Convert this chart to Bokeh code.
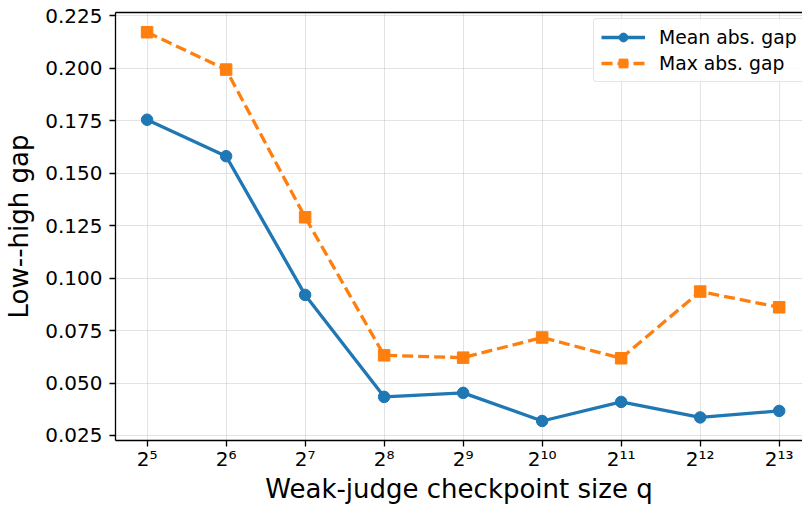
from bokeh.plotting import figure
from bokeh.models import (Range1d, FixedTicker, LogAxis, PrintfTickFormatter,
                          Legend)
from bokeh.embed import file_html
from bokeh.resources import INLINE

# checkpoint sizes (powers of two) and the two gap statistics
exponents = [5, 6, 7, 8, 9, 10, 11, 12, 13]
q_sizes = [2 ** e for e in exponents]
mean_gap = [0.1755, 0.1581, 0.0920, 0.0434, 0.0453, 0.0319, 0.0410, 0.0336, 0.0367]
max_gap = [0.2172, 0.1994, 0.1290, 0.0632, 0.0621, 0.0717, 0.0618, 0.0936, 0.0861]
y_ticks = [0.025, 0.050, 0.075, 0.100, 0.125, 0.150, 0.175, 0.200, 0.225]

SUP = str.maketrans("0123456789", "⁰¹²³⁴⁵⁶⁷⁸⁹")
x_tick_labels = {q: "2" + str(e).translate(SUP) for q, e in zip(q_sizes, exponents)}

BLUE = "#1f77b4"
ORANGE = "#ff7f0e"
FONT = "DejaVu Sans"

p = figure(
    width=802, height=508,
    x_axis_type="log",
    x_range=Range1d(2 ** 4.6, 2 ** 13.295),
    y_range=Range1d(0.0226, 0.2266),
    output_backend="svg", toolbar_location=None,
    min_border_left=115, min_border_right=0,
    min_border_top=12, min_border_bottom=68,
)
p.outline_line_color = None
p.background_fill_color = "white"
p.border_fill_color = "white"

xa = p.below[0]
ya = p.left[0]

# top spine: a bare axis line with no ticks or labels
top = LogAxis(ticker=FixedTicker(ticks=[], minor_ticks=[]))
top.major_label_text_font_size = "0px"
top.major_label_standoff = 0
top.major_tick_out = 0
top.major_tick_in = 0
top.minor_tick_out = 0
top.minor_tick_in = 0
top.axis_line_width = 1.3
top.axis_line_color = "black"
p.add_layout(top, "above")

xa.ticker = FixedTicker(ticks=q_sizes, minor_ticks=[])
xa.major_label_overrides = x_tick_labels
ya.ticker = FixedTicker(ticks=y_ticks, minor_ticks=[])
ya.formatter = PrintfTickFormatter(format="%.3f")

for ax in (xa, ya):
    ax.axis_line_width = 1.3
    ax.axis_line_color = "black"
    ax.major_tick_line_width = 1.3
    ax.major_tick_line_color = "black"
    ax.major_tick_out = 6
    ax.major_tick_in = 0
    ax.minor_tick_out = 0
    ax.minor_tick_in = 0
    ax.major_label_text_font = FONT
    ax.major_label_text_font_size = "20px"
    ax.major_label_text_color = "black"
    ax.axis_label_text_font = FONT
    ax.axis_label_text_font_size = "26px"
    ax.axis_label_text_font_style = "normal"
    ax.axis_label_text_color = "black"

xa.axis_label = "Weak-judge checkpoint size q"
xa.major_label_standoff = 0
xa.axis_label_standoff = 0
ya.axis_label = "Low--high gap"
ya.major_label_standoff = 7
ya.axis_label_standoff = 8

for g in (p.xgrid[0], p.ygrid[0]):
    g.grid_line_color = "#b0b0b0"
    g.grid_line_alpha = 0.35
    g.grid_line_width = 1
p.xgrid[0].ticker = FixedTicker(ticks=q_sizes, minor_ticks=[])
p.ygrid[0].ticker = FixedTicker(ticks=y_ticks, minor_ticks=[])

l1 = p.line(q_sizes, mean_gap, line_color=BLUE, line_width=3.3)
s1 = p.scatter(q_sizes, mean_gap, marker="circle", size=11.5,
               fill_color=BLUE, line_color=BLUE)
l2 = p.line(q_sizes, max_gap, line_color=ORANGE, line_width=3.3,
            line_dash="11 5")
s2 = p.scatter(q_sizes, max_gap, marker="square", size=11.5,
               fill_color=ORANGE, line_color=ORANGE)

legend = Legend(
    items=[("Mean abs. gap", [l1, s1]), ("Max abs. gap", [l2, s2])],
    location=(478, 358),
)
legend.label_text_font = FONT
legend.label_text_font_size = "18.8px"
legend.label_text_color = "black"
legend.glyph_width = 44
legend.glyph_height = 22
legend.label_standoff = 14
legend.padding = 7
legend.spacing = 4
legend.margin = 0
legend.border_line_color = "#cccccc"
legend.border_line_width = 1
legend.border_radius = 4
legend.background_fill_alpha = 0.85
p.add_layout(legend, "center")

open("out.html", "w").write(file_html(p, INLINE))
